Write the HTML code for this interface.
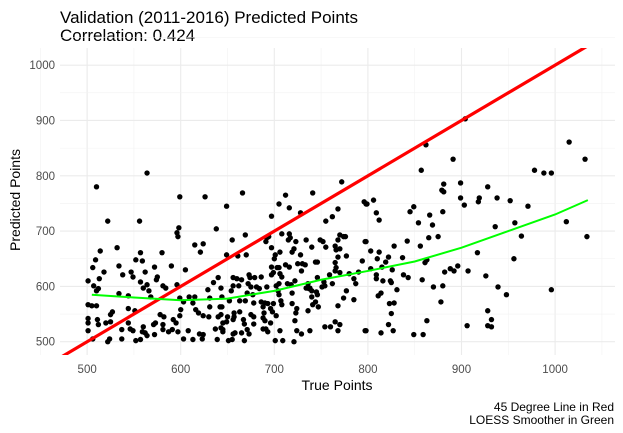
<!DOCTYPE html>
<html><head><meta charset="utf-8"><style>
body{margin:0;background:#fff;}
svg{display:block;font-family:"Liberation Sans",Arial,sans-serif;}
</style></head><body>
<svg id="chart" width="623" height="433" viewBox="0 0 623 433" xmlns="http://www.w3.org/2000/svg">
<text x="60" y="23" font-size="17" fill="#000">Validation (2011-2016) Predicted Points</text>
<text x="60" y="41" font-size="17" fill="#000">Correlation: 0.424</text>
<g id="grid"></g>
<g id="axes"></g>
<clipPath id="clip"><rect x="60" y="48" width="555" height="307"/></clipPath>
<g id="marks" clip-path="url(#clip)"></g>
<text x="337" y="390" font-size="14" text-anchor="middle" fill="#000">True Points</text>
<text transform="translate(20,200) rotate(-90)" font-size="14" text-anchor="middle" fill="#000">Predicted Points</text>
<text x="614" y="411" font-size="12" text-anchor="end" fill="#000">45 Degree Line in Red</text>
<text x="614" y="424" font-size="12" text-anchor="end" fill="#000">LOESS Smoother in Green</text>
</svg>
<script>
const xTicks = [500, 600, 700, 800, 900, 1000];
const yTicks = [500, 600, 700, 800, 900, 1000];
const loessX = [505, 550, 600, 650, 700, 750, 800, 850, 900, 950, 1000, 1035];
const loessY = [585, 580, 575, 578, 592, 612, 628, 645, 670, 700, 730, 756];
const truePts = [564,510,599,626,522,556,598,596,597,638,514,532,557,580,615,624,621,509,506,552,559,534,572,590,518,547,549,538,562,605,501,513,575,574,557,564,560,566,581,584,596,507,512,510,635,640,629,534,544,568,599,609,615,631,644,603,613,501,505,510,544,551,527,525,600,616,631,642,619,624,578,582,599,501,501,511,512,520,525,544,560,571,573,581,592,595,630,640,501,537,546,549,559,562,564,572,581,587,591,597,608,620,624,637,643,506,524,522,537,552,557,603,613,623,639,
666,712,741,772,649,705,716,728,697,768,755,762,796,798,655,669,692,691,694,708,716,715,717,723,734,749,752,770,774,776,768,798,697,706,719,721,740,755,765,766,770,649,661,670,701,700,728,768,777,794,697,703,705,712,716,725,730,733,744,746,765,766,765,729,697,699,706,708,673,674,679,686,656,660,665,759,770,780,785,787,790,722,714,718,736,738,746,753,762,656,662,672,675,681,684,692,702,705,643,654,671,677,704,705,719,734,737,740,745,746,751,754,777,774,785,652,663,669,678,686,690,693,699,707,708,719,740,744,741,747,644,688,689,688,696,698,724,723,736,768,643,650,649,657,657,656,663,675,678,702,667,668,678,690,696,722,645,645,645,765,770,754,760,671,673,656,658,665,688,691,693,706,724,729,738,768,797,651,655,668,701,709,721,
904,862,891,857,1015,1032,978,988,996,881,879,881,899,928,899,919,918,938,952,903,806,799,849,845,809,812,880,866,971,854,869,1012,957,936,964,1034,865,875,842,797,828,856,803,812,917,822,837,810,819,863,861,956,815,803,826,882,888,892,896,907,809,809,816,824,825,838,843,858,926,831,870,880,939,948,996,811,814,823,828,878,825,928,932,863,822,906,928,932,798,814,827,849,859];
const predPts = [805,780,762,762,718,718,706,697,690,704,664,670,661,661,675,677,662,648,634,648,646,637,635,637,626,626,617,621,626,630,610,614,617,612,608,603,597,592,601,597,603,601,596,592,607,616,594,587,583,581,579,581,581,579,581,572,570,567,565,565,560,556,554,549,558,558,563,563,552,547,549,545,547,542,534,540,531,534,536,534,527,531,534,531,540,534,545,545,520,522,523,520,518,516,511,513,522,518,522,518,520,514,513,523,525,505,505,500,505,502,504,505,504,505,504,
769,765,769,789,745,749,742,733,727,740,718,726,753,749,684,693,688,681,690,695,695,684,688,681,684,684,681,693,690,690,684,681,670,662,662,668,671,671,673,666,668,657,655,657,657,650,657,653,655,646,635,634,634,639,635,641,641,639,644,644,643,634,628,628,621,625,623,617,621,616,616,617,616,614,612,621,625,623,614,605,626,610,605,603,605,597,616,608,605,601,601,605,599,599,596,599,601,605,597,592,588,585,592,585,588,597,596,592,590,585,599,601,592,579,576,574,574,574,570,572,570,569,569,574,567,569,581,572,567,563,563,563,552,543,560,554,560,552,556,565,549,545,536,552,545,540,554,549,545,547,540,532,532,538,534,538,534,522,518,536,531,527,527,522,514,514,516,516,523,523,518,520,520,514,520,520,520,502,504,502,502,502,500,
903,856,830,810,861,830,810,805,805,785,774,771,787,780,760,760,753,760,755,747,756,749,744,735,733,720,735,729,745,715,711,717,715,708,691,690,688,690,682,681,673,673,664,662,661,653,652,650,644,648,643,650,635,632,630,626,632,628,637,628,621,614,610,610,607,621,616,612,619,594,599,601,599,585,594,583,588,569,570,572,551,556,540,538,531,529,529,527,520,516,520,513,513];

const X0=471, X1=1064, Y0=476, Y1=1031, PL=60, PR=615, PT=48, PB=355;
const sx = v => PL + (v - X0) / (X1 - X0) * (PR - PL);
const sy = v => PB - (v - Y0) / (Y1 - Y0) * (PB - PT);
const NS = "http://www.w3.org/2000/svg";
function mk(tag, attrs, parent){const e=document.createElementNS(NS,tag);for(const k in attrs)e.setAttribute(k,attrs[k]);parent.appendChild(e);return e;}
const grid=document.getElementById('grid'), axes=document.getElementById('axes'), marks=document.getElementById('marks');

xTicks.forEach((t,i)=>{
  const m=mk('line',{x1:sx(t-50),x2:sx(t-50),y1:PT,y2:PB,stroke:'#f2f2f2','stroke-width':0.6},grid);
  
  
  const g=mk('line',{x1:sx(t),x2:sx(t),y1:PT,y2:PB,stroke:'#ebebeb','stroke-width':1.1},grid);
  
  
  const l=mk('text',{x:sx(t),y:373,'font-size':11.5,'text-anchor':'middle',fill:'#4d4d4d'},axes);
  l.textContent=t;
  
  
});
[1050].forEach(t=>{
  const m=mk('line',{x1:sx(t),x2:sx(t),y1:PT,y2:PB,stroke:'#f2f2f2','stroke-width':0.6},grid);
  
  
});
yTicks.forEach(t=>{
  const m=mk('line',{x1:PL,x2:PR,y1:sy(t+50),y2:sy(t+50),stroke:'#f2f2f2','stroke-width':0.6},grid);
  
  
  const g=mk('line',{x1:PL,x2:PR,y1:sy(t),y2:sy(t),stroke:'#ebebeb','stroke-width':1.1},grid);
  
  
  const l=mk('text',{x:55,y:sy(t)+4,'font-size':11.5,'text-anchor':'end',fill:'#4d4d4d'},axes);
  l.textContent=t;
  
  
});

for(let i=0;i<truePts.length;i++){
  const c=mk('circle',{cx:sx(truePts[i]),cy:sy(predPts[i]),r:2.7,fill:'#000'},marks);
  
  
}
const red=mk('line',{x1:sx(X0),y1:sy(X0),x2:sx(X1),y2:sy(X1),stroke:'#ff0000','stroke-width':3.2},marks);


const pts=loessX.map((x,i)=>sx(x)+','+sy(loessY[i])).join(' ');
const gl=mk('polyline',{points:pts,fill:'none',stroke:'#00ff00','stroke-width':2},marks);


</script>
</body></html>
